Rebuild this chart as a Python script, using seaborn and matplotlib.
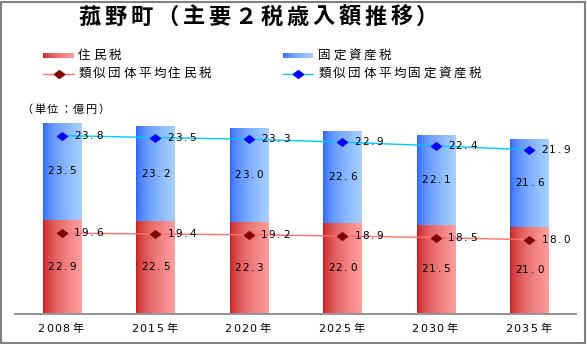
import numpy as np
import pandas as pd
import matplotlib
matplotlib.use("Agg")
import matplotlib.pyplot as plt
from matplotlib.transforms import IdentityTransform
from matplotlib.lines import Line2D
from matplotlib.patches import Rectangle
import seaborn as sns

# ---------------- data ----------------
years = ["2008年", "2015年", "2020年", "2025年", "2030年", "2035年"]
jumin = [22.9, 22.5, 22.3, 22.0, 21.5, 21.0]          # 住民税
kotei = [23.5, 23.2, 23.0, 22.6, 22.1, 21.6]          # 固定資産税
avg_jumin = [19.6, 19.4, 19.2, 18.9, 18.5, 18.0]      # 類似団体平均住民税
avg_kotei = [23.8, 23.5, 23.3, 22.9, 22.4, 21.9]      # 類似団体平均固定資産税

title = "菰野町（主要２税歳入額推移）"
unit_label = "（単位：億円）"
legend_labels = ["住民税", "固定資産税", "類似団体平均住民税", "類似団体平均固定資産税"]

FONT = ["Noto Sans CJK JP", "DejaVu Sans"]
NUMFONT = ["DejaVu Sans", "Noto Sans CJK JP"]
sns.set_theme(style="white")
plt.rcParams["font.family"] = FONT

W, H = 587, 344
fig = plt.figure(figsize=(W / 100, H / 100), dpi=100)
fig.patch.set_facecolor("white")

# axes: baseline at y=313.5px, x from 15 to 576 px
ax = fig.add_axes([15 / W, (H - 313.5) / H, 561 / W, 205 / H])
ax.set_facecolor("white")

df = pd.DataFrame({"year": years, "jumin": jumin, "kotei": kotei,
                   "avg_jumin": avg_jumin, "avg_kotei": avg_kotei})
df["total"] = df["jumin"] + df["kotei"]
df["avg_total"] = df["avg_jumin"] + df["avg_kotei"]
df["idx"] = np.arange(len(df))

sns.barplot(data=df, x="year", y="total", color="#6699FF", width=0.41,
            ax=ax, zorder=2, saturation=1)
n_top = len(ax.patches)
sns.barplot(data=df, x="year", y="jumin", color="#E06060", width=0.41,
            ax=ax, zorder=3, saturation=1)

def grad_img(c0, c1, n=64, gamma=0.55):
    t = np.linspace(0, 1, n) ** gamma
    c0 = np.array(matplotlib.colors.to_rgb(c0))
    c1 = np.array(matplotlib.colors.to_rgb(c1))
    row = c0[None, :] * (1 - t[:, None]) + c1[None, :] * t[:, None]
    return row[None, :, :]

blue_grad = grad_img("#2A62FF", "#A6D0FF")
red_grad = grad_img("#C41A1A", "#FF9E9E")

for i, p in enumerate(ax.patches):
    x0, y0 = p.get_x(), p.get_y()
    w, h = p.get_width(), p.get_height()
    img = blue_grad if i < n_top else red_grad
    im = ax.imshow(img, extent=[x0, x0 + w, y0, y0 + h], aspect="auto",
                   zorder=p.get_zorder(), interpolation="bilinear")
    im.set_clip_path(p)
    p.set_facecolor("none")
    p.set_edgecolor("none")

DIAMOND = [(-1, 0), (0, 0.75), (1, 0), (0, -0.75), (-1, 0)]

# average lines (stacked)
sns.lineplot(data=df, x="idx", y="avg_jumin", ax=ax, color="#FF7070", lw=1.0,
             marker=DIAMOND, markersize=7.5, markerfacecolor="#800000",
             markeredgecolor="#800000", zorder=5)
sns.lineplot(data=df, x="idx", y="avg_total", ax=ax, color="#00C8FF", lw=1.0,
             marker=DIAMOND, markersize=7.5, markerfacecolor="#0000FF",
             markeredgecolor="#0000FF", zorder=5)

ax.set_xlim(-0.5, len(years) - 0.5)
ax.set_ylim(0, 50)
ax.set_xlabel("")
ax.set_ylabel("")
ax.set_xticks(range(len(years)))
ax.set_xticklabels([])
ax.set_yticks([])
ax.tick_params(length=0)
for s in ["top", "right", "left"]:
    ax.spines[s].set_visible(False)
ax.spines["bottom"].set_color("#808080")
ax.spines["bottom"].set_linewidth(1.2)

fig.canvas.draw()

def spaced(x, y, s, size, pitch, ha="left", weight="normal", color="black",
           family=FONT):
    """draw text with letter spacing; x,y display px (y from bottom)"""
    widths = [pitch if ord(c) > 0x2000 else pitch / 2 for c in s]
    total = sum(widths)
    x0 = x - total / 2 if ha == "center" else x
    cx = x0
    for c, w in zip(s, widths):
        fig.text(cx + w / 2, y, c, ha="center", va="center", fontsize=size,
                 fontweight=weight, color=color, transform=IdentityTransform(),
                 family=family)
        cx += w

def to_px(xd, yd):
    return ax.transData.transform((xd, yd))

# value labels
for i in range(len(years)):
    px, py = to_px(i, jumin[i] / 2)
    spaced(px, py, f"{jumin[i]:.1f}", 7.5, 14.6, ha="center", family=NUMFONT)
    px, py = to_px(i, jumin[i] + kotei[i] / 2)
    spaced(px, py, f"{kotei[i]:.1f}", 7.5, 14.6, ha="center", family=NUMFONT)
    px, py = to_px(i, avg_jumin[i])
    spaced(px + 12, py, f"{avg_jumin[i]:.1f}", 7.5, 14.6, family=NUMFONT)
    px, py = to_px(i, avg_jumin[i] + avg_kotei[i])
    spaced(px + 12, py, f"{avg_kotei[i]:.1f}", 7.5, 14.6, family=NUMFONT)
    # tick labels
    px, _ = to_px(i, 0)
    spaced(px, H - 329, years[i], 8, 16.5, ha="center", family=NUMFONT)

# title
spaced(258.5, H - 17, title, 16, 26, ha="center", weight="bold")
# unit
spaced(20, H - 110, unit_label, 8, 13)

# legend
def grad_patch(x0, x1, yc, img):
    a = fig.add_axes([x0 / W, (H - yc - 2.8) / H, (x1 - x0) / W, 5.6 / H])
    a.imshow(img, aspect="auto", extent=[0, 1, 0, 1], interpolation="bilinear")
    a.set_axis_off()

grad_patch(43, 74, 55.5, red_grad)
grad_patch(283, 313, 55.5, blue_grad)
spaced(77, H - 55.5, legend_labels[0], 9, 15)
spaced(317, H - 55.5, legend_labels[1], 9, 15)

for (x0, x1, lc, mc) in [(43, 74, "#FF7070", "#800000"), (283, 313, "#00C8FF", "#0000FF")]:
    yc = (H - 73.5) / H
    fig.add_artist(Line2D([x0 / W, x1 / W], [yc, yc], transform=fig.transFigure,
                          color=lc, lw=1.0))
    fig.add_artist(Line2D([(x0 + x1) / 2 / W], [yc], transform=fig.transFigure,
                          marker=DIAMOND, markersize=7.5, color=mc, lw=0))
spaced(77, H - 73.5, legend_labels[2], 9, 15)
spaced(317, H - 73.5, legend_labels[3], 9, 15)

# outer frame
fig.add_artist(Rectangle((0.8 / W, 1.5 / H), 584.5 / W, 341 / H,
                         transform=fig.transFigure, fill=False,
                         edgecolor="#808080", lw=1.5))

fig.savefig("out.png", dpi=100)
